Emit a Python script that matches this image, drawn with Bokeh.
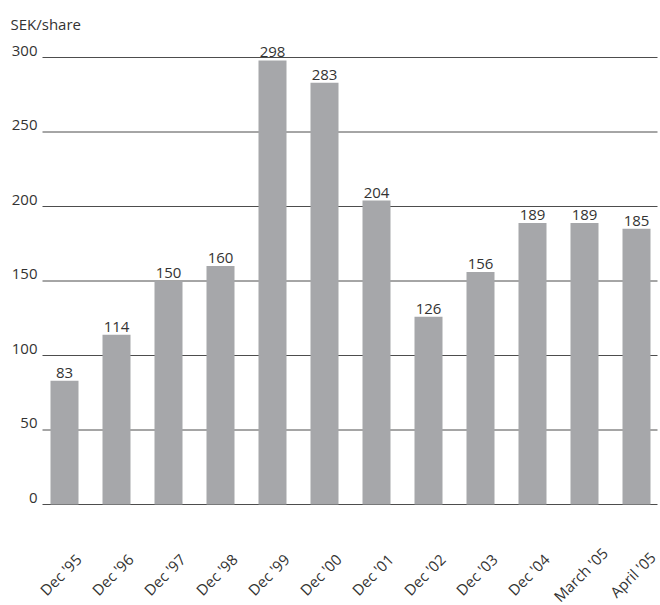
from bokeh.plotting import figure
from bokeh.models import Range1d, ColumnDataSource
from bokeh.core.properties import value
from bokeh.embed import file_html
from bokeh.resources import INLINE

# Share price at each reporting date
periods = ["Dec '95", "Dec '96", "Dec '97", "Dec '98", "Dec '99", "Dec '00",
           "Dec '01", "Dec '02", "Dec '03", "Dec '04", "March '05", "April '05"]
price = [83, 114, 150, 160, 298, 283, 204, 126, 156, 189, 189, 185]
y_ticks = [0, 50, 100, 150, 200, 250, 300]
unit_label = "SEK/share"

# Layout: one category step is 52 px, one SEK is 1.49 px
W, H = 660, 605
STEP = 52.0
PX = 1.49
X0 = 64.0      # pixel x of the first bar centre
Y0 = 504.0     # pixel y of the zero line


def dx(px):
    return (px - X0) / STEP


def dy(px):
    return (Y0 - px) / PX


FONT = value("Open Sans")
TEXT_COLOR = "#333333"
BAR_COLOR = "#a6a7aa"
GRID_COLOR = "#4d4d4d"

idx = list(range(len(periods)))
bars = ColumnDataSource(dict(
    x=idx,
    top=price,
    label=[str(v) for v in price],
    name=periods,
))
ticks = ColumnDataSource(dict(y=y_ticks, label=[str(t) for t in y_ticks]))

p = figure(width=W, height=H,
           x_range=Range1d(dx(0), dx(W)), y_range=Range1d(dy(H), dy(0)),
           x_axis_type=None, y_axis_type=None,
           toolbar_location=None, output_backend="svg",
           min_border=0, outline_line_color=None)
p.background_fill_color = "white"
p.border_fill_color = "white"

# horizontal rules behind the bars
p.segment(x0=dx(42), x1=dx(657), y0="y", y1="y", source=ticks,
          line_color=GRID_COLOR, line_width=1)

# tick values, sitting just above each rule
p.text(x=dx(37), y="y", text="label", source=ticks,
       text_font=FONT, text_font_size="15px", text_color=TEXT_COLOR,
       text_align="right", text_baseline="bottom", y_offset=-2)

# bars
p.vbar(x="x", top="top", bottom=0, width=28 / STEP, source=bars,
       fill_color=BAR_COLOR, line_color=None)

# value labels above bars
p.text(x="x", y="top", text="label", source=bars,
       text_font=FONT, text_font_size="15px", text_color=TEXT_COLOR,
       text_align="center", text_baseline="bottom", y_offset=-3)

# rotated period labels under the bars
p.text(x="x", y=dy(574), text="name", source=bars, angle=0.785398,
       text_font=FONT, text_font_size="15px", text_color=TEXT_COLOR,
       text_align="center", text_baseline="middle", x_offset=-4)

# unit caption
p.text(x=[dx(10)], y=[dy(33)], text=[unit_label],
       text_font=FONT, text_font_size="15px", text_color=TEXT_COLOR,
       text_align="left", text_baseline="bottom")

open("out.html", "w").write(file_html(p, INLINE))
